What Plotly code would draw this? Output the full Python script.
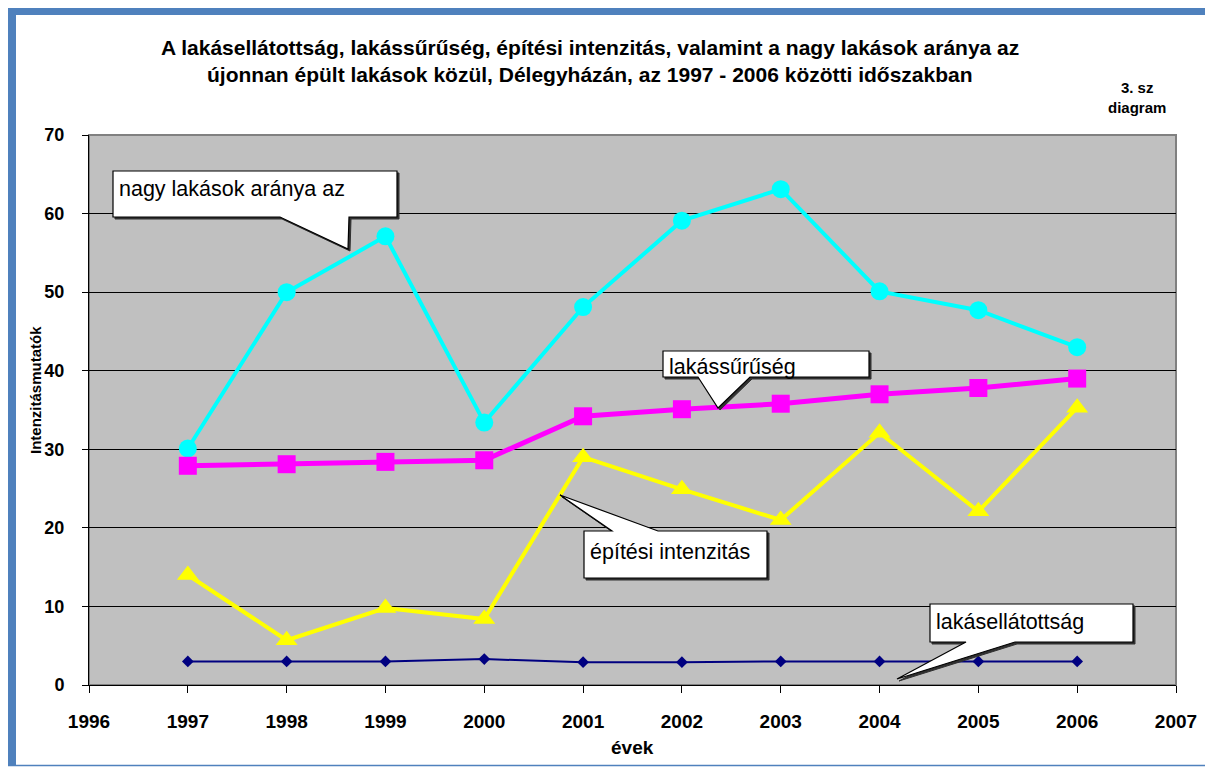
import plotly.graph_objects as go

years = [1997, 1998, 1999, 2000, 2001, 2002, 2003, 2004, 2005, 2006]
nagy_lakasok = [30.1, 50.0, 57.1, 33.4, 48.1, 59.1, 63.1, 50.1, 47.7, 43.0]
lakassuruseg = [27.9, 28.1, 28.4, 28.6, 34.2, 35.1, 35.8, 37.0, 37.8, 39.0]
epitesi_int = [14.0, 5.7, 9.8, 8.4, 29.0, 24.9, 21.0, 32.1, 22.1, 35.3]
lakasellatottsag = [3.0, 3.0, 3.0, 3.3, 2.9, 2.9, 3.0, 3.0, 3.0, 3.0]
x_ticks = list(range(1996, 2008))
y_ticks = list(range(0, 71, 10))

# page body has an 8px margin: the figure is drawn from (8, 8)
OFF = 8
W, H = 1213 - OFF, 767 - OFF
ML, MR, MT, MB = 89 - OFF, 37, 135 - OFF, 82
PW, PH = W - ML - MR, H - MT - MB


def px(x):
    return (x - OFF - ML) / PW


def py(y):
    return (H - MB - (y - OFF)) / PH


FONT = "Liberation Sans, Arial, sans-serif"
NARROW = "Liberation Sans Narrow, Arial Narrow, Liberation Sans, Arial, sans-serif"

fig = go.Figure()
fig.add_trace(go.Scatter(x=years, y=nagy_lakasok, mode="lines+markers",
                         line=dict(color="#00FFFF", width=4),
                         marker=dict(symbol="circle", size=18, color="#00FFFF"),
                         name="nagy lakások aránya"))
fig.add_trace(go.Scatter(x=years, y=lakassuruseg, mode="lines+markers",
                         line=dict(color="#FF00FF", width=5),
                         marker=dict(symbol="square", size=18, color="#FF00FF"),
                         name="lakássűrűség"))
fig.add_trace(go.Scatter(x=years, y=epitesi_int, mode="lines+markers",
                         line=dict(color="#FFFF00", width=4),
                         marker=dict(symbol="triangle-up", size=19, color="#FFFF00"),
                         name="építési intenzitás"))
fig.add_trace(go.Scatter(x=years, y=lakasellatottsag, mode="lines+markers",
                         line=dict(color="#000080", width=2),
                         marker=dict(symbol="diamond", size=9, color="#000080"),
                         name="lakásellátottság"))

shapes = []
annotations = []

# outer frame
blue = "#4F81BD"
shapes.append(dict(type="rect", xref="paper", yref="paper", layer="below",
                   x0=px(7), x1=px(16), y0=py(766), y1=py(6), fillcolor=blue, line=dict(width=0)))
shapes.append(dict(type="rect", xref="paper", yref="paper", layer="below",
                   x0=px(7), x1=px(1213), y0=py(15), y1=py(6), fillcolor=blue, line=dict(width=0)))
shapes.append(dict(type="line", xref="paper", yref="paper",
                   x0=px(7), x1=px(1213), y0=py(765.5), y1=py(765.5), line=dict(color=blue, width=1.5)))
shapes.append(dict(type="line", xref="paper", yref="paper",
                   x0=px(1211.5), x1=px(1211.5), y0=py(766), y1=py(6), line=dict(color=blue, width=1.5)))

# plot-area border
shapes.append(dict(type="rect", xref="paper", yref="paper", x0=0, x1=1, y0=0, y1=1,
                   line=dict(color="#808080", width=2), layer="below"))


def callout(box, pointer, text, text_y):
    (x0, x1, y0, y1) = box
    (b0, b1, tip) = pointer
    edge = b0[1]
    if abs(edge - y0) < 1e-9:
        path_pts = [(x0, y1), (x1, y1), (x1, y0), b1, tip, b0, (x0, y0)]
    else:
        path_pts = [(x0, y0), (x0, y1), b0, tip, b1, (x1, y1), (x1, y0)]
    path = "M " + " L ".join(f"{px(a)},{py(b)}" for a, b in path_pts) + " Z"
    spath = "M " + " L ".join(f"{px(a + 2)},{py(b + 2)}" for a, b in path_pts) + " Z"
    shapes.append(dict(type="path", xref="paper", yref="paper", path=spath,
                       fillcolor="#303030", line=dict(color="#303030", width=1)))
    shapes.append(dict(type="path", xref="paper", yref="paper", path=path,
                       fillcolor="white", line=dict(color="black", width=1.2)))
    annotations.append(dict(xref="paper", yref="paper", x=px(x0 + 4), y=py(text_y),
                            xanchor="left", yanchor="middle", showarrow=False, text=text,
                            font=dict(family=FONT, size=21.5, color="black")))


callout((113, 397, 217, 171), ((280, 217), (349, 217), (348, 249)), "nagy lakások aránya az", 189)
callout((663, 869, 377, 351), ((698, 377), (750, 377), (718, 408)), "lakássűrűség", 367)
callout((584, 767, 578, 531), ((612, 531), (658, 531), (560, 495)), "építési intenzitás", 552)
callout((930, 1133, 642, 604), ((966, 642), (1015, 642), (897, 679)), "lakásellátottság", 622)

# titles
annotations.append(dict(xref="paper", yref="paper", x=px(590), y=py(48), xanchor="center",
                        yanchor="middle", showarrow=False,
                        text="A lakásellátottság, lakássűrűség, építési intenzitás, valamint a nagy lakások aránya az",
                        font=dict(family=FONT, size=21, color="black", weight="bold")))
annotations.append(dict(xref="paper", yref="paper", x=px(590), y=py(74), xanchor="center",
                        yanchor="middle", showarrow=False,
                        text="újonnan épült lakások közül, Délegyházán, az 1997 - 2006 közötti időszakban",
                        font=dict(family=FONT, size=21, color="black", weight="bold")))
annotations.append(dict(xref="paper", yref="paper", x=px(1137), y=py(98), xanchor="center",
                        yanchor="middle", showarrow=False, text="3. sz<br>diagram",
                        font=dict(family=FONT, size=15, color="black", weight="bold")))
# axis titles
annotations.append(dict(xref="paper", yref="paper", x=px(35), y=py(390), xanchor="center",
                        yanchor="middle", showarrow=False, text="Intenzitásmutatók", textangle=-90,
                        font=dict(family=FONT, size=15, color="black", weight="bold")))
annotations.append(dict(xref="paper", yref="paper", x=px(632), y=py(747), xanchor="center",
                        yanchor="middle", showarrow=False, text="évek",
                        font=dict(family=NARROW, size=19, color="black", weight="bold")))

fig.update_layout(
    width=W, height=H,
    margin=dict(l=ML, r=MR, t=MT, b=MB, pad=0),
    paper_bgcolor="white", plot_bgcolor="#C0C0C0",
    showlegend=False,
    shapes=shapes, annotations=annotations,
    font=dict(family=FONT, color="black"),
)
fig.update_xaxes(range=[1996, 2007], tickvals=x_ticks, ticktext=[str(v) for v in x_ticks],
                 showgrid=False, zeroline=False, showline=True, linecolor="black", linewidth=1,
                 ticks="outside", ticklen=7, tickcolor="black", ticklabelstandoff=12,
                 tickfont=dict(family=NARROW, size=19, weight="bold"))
fig.update_yaxes(range=[0, 70], tickvals=y_ticks, showgrid=True, gridcolor="black", gridwidth=1,
                 zeroline=False, showline=True, linecolor="black", linewidth=1,
                 ticks="outside", ticklen=6, tickcolor="black", ticklabelstandoff=14,
                 tickfont=dict(family=FONT, size=18, weight="bold"))

fig.write_html("out.html")
